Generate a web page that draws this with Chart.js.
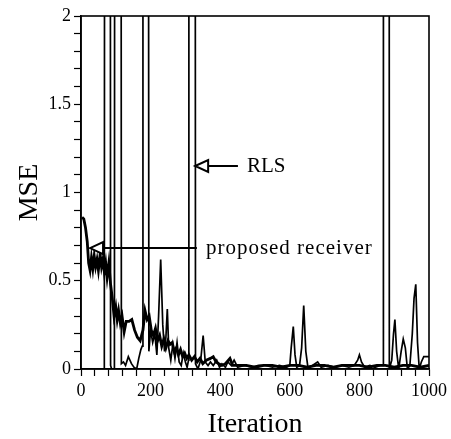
<!DOCTYPE html>
<html>
<head>
<meta charset="utf-8">
<script src="https://cdn.jsdelivr.net/npm/chart.js@4/dist/chart.umd.min.js"></script>
<style>
    html, body { margin: 0; padding: 0; background: #fff; }
    #wrap { width: 451px; height: 439px; }
</style>
</head>
<body>
<div id="wrap"><canvas id="mseChart"></canvas></div>
<script>
// ===========================
// DATA
// ===========================

// RLS - values above 2 run off the top of the plot
const rlsIter = [0, 30, 67, 69, 83, 85, 88, 96, 98, 114, 116, 122, 128, 136, 145, 152, 160, 166, 172, 176, 178, 192, 195, 200, 206, 212, 218, 223, 229, 235, 240, 244, 248, 252, 258, 264, 270, 276, 282, 288, 294, 300, 305, 309, 310, 327, 329, 336, 344, 351, 357, 365, 372, 380, 390, 398, 405, 415, 422, 432, 440, 450, 470, 490, 510, 530, 550, 570, 590, 600, 604, 610, 615, 620, 628, 634, 640, 646, 652, 665, 680, 690, 710, 730, 750, 770, 785, 795, 800, 806, 815, 830, 845, 860, 868, 869, 885, 886, 893, 898, 902, 907, 913, 920, 926, 932, 938, 945, 952, 957, 962, 967, 972, 978, 985, 995, 1000];
const rlsMse  = [0, 0, 0, 8, 8, 0.02, 0, 0, 8, 8, 0.03, 0.04, 0.02, 0.07, 0.03, 0.01, 0, 0.06, 0.11, 0.13, 8, 8, 0.1, 0.22, 0.15, 0.2, 0.08, 0.3, 0.62, 0.25, 0.1, 0.18, 0.34, 0.12, 0.05, 0.14, 0.06, 0.15, 0.04, 0.02, 0.09, 0.04, 0.01, 0.05, 8, 8, 0.03, 0, 0.05, 0.19, 0.04, 0.02, 0.04, 0.02, 0.05, 0.01, 0.03, 0.01, 0.04, 0.02, 0.05, 0.01, 0.02, 0.01, 0.02, 0.02, 0.01, 0.02, 0.01, 0.02, 0.12, 0.24, 0.08, 0.01, 0.02, 0.12, 0.36, 0.1, 0.01, 0.02, 0.04, 0.01, 0.02, 0.01, 0.02, 0.01, 0.02, 0.05, 0.08, 0.04, 0.01, 0.02, 0.01, 0.02, 0.02, 8, 8, 0, 0.05, 0.2, 0.28, 0.1, 0, 0.1, 0.17, 0.12, 0, 0.02, 0.2, 0.4, 0.48, 0.15, 0, 0.04, 0.07, 0.07, 0.07];

// proposed receiver
const propIter = [3, 8, 13, 18, 22, 26, 30, 34, 38, 42, 46, 50, 55, 59, 63, 67, 71, 75, 80, 85, 90, 95, 100, 104, 108, 113, 118, 124, 130, 138, 146, 154, 162, 170, 178, 184, 190, 196, 202, 208, 214, 220, 226, 232, 238, 244, 250, 256, 262, 268, 274, 280, 286, 292, 298, 304, 310, 318, 326, 334, 342, 350, 360, 372, 380, 388, 396, 405, 415, 428, 436, 450, 475, 500, 525, 550, 575, 600, 625, 650, 675, 700, 725, 750, 775, 800, 825, 850, 875, 900, 925, 950, 975, 1000];
const propMse  = [0.86, 0.85, 0.8, 0.72, 0.6, 0.56, 0.63, 0.57, 0.64, 0.58, 0.62, 0.56, 0.65, 0.58, 0.62, 0.55, 0.6, 0.52, 0.6, 0.48, 0.4, 0.3, 0.35, 0.28, 0.33, 0.26, 0.3, 0.21, 0.27, 0.27, 0.28, 0.22, 0.18, 0.16, 0.22, 0.33, 0.28, 0.3, 0.22, 0.19, 0.23, 0.16, 0.19, 0.13, 0.17, 0.12, 0.16, 0.14, 0.15, 0.1, 0.12, 0.08, 0.11, 0.07, 0.09, 0.06, 0.08, 0.05, 0.07, 0.04, 0.06, 0.03, 0.05, 0.06, 0.07, 0.04, 0.03, 0.02, 0.03, 0.06, 0.02, 0.02, 0.02, 0.01, 0.02, 0.02, 0.01, 0.02, 0.02, 0.01, 0.02, 0.02, 0.01, 0.02, 0.02, 0.02, 0.01, 0.02, 0.02, 0.01, 0.02, 0.02, 0.01, 0.02];

// axis ticks
const xMajorTicks = [0, 200, 400, 600, 800, 1000];
const yMajorTicks = [0, 0.5, 1, 1.5, 2];

// annotation arrows: [tipIter, tipMse, lineEndIter, label, letterSpacing]
const rlsNote  = [328, 1.15, 451, 'RLS', '0px'];
const propNote = [26, 0.685, 333, 'proposed receiver', '1px'];

const SERIF = '"Liberation Serif", "Times New Roman", serif';

function toPoints(xs, ys) {
    return xs.map((x, i) => ({ x: x, y: ys[i] }));
}

// Frame around the plot area (top and right sides too)
const framePlugin = {
    id: 'frame',
    afterDatasetsDraw(chart) {
        const { ctx, chartArea: a } = chart;
        ctx.save();
        ctx.strokeStyle = '#000';
        ctx.lineWidth = 1.6;
        ctx.strokeRect(a.left, a.top, a.right - a.left, a.bottom - a.top);
        ctx.restore();
    }
};

// Open-headed arrows with labels
const arrowPlugin = {
    id: 'arrows',
    afterDraw(chart) {
        const { ctx, scales } = chart;
        [rlsNote, propNote].forEach(note => {
            const tipX = scales.x.getPixelForValue(note[0]);
            const y = scales.y.getPixelForValue(note[1]);
            const endX = scales.x.getPixelForValue(note[2]);
            const headLen = 13, headHalf = 6;

            ctx.save();
            ctx.strokeStyle = '#000';
            ctx.lineWidth = 2;
            ctx.beginPath();
            ctx.moveTo(tipX + headLen, y);
            ctx.lineTo(endX, y);
            ctx.stroke();

            ctx.fillStyle = '#fff';
            ctx.beginPath();
            ctx.moveTo(tipX, y);
            ctx.lineTo(tipX + headLen, y - headHalf);
            ctx.lineTo(tipX + headLen, y + headHalf);
            ctx.closePath();
            ctx.fill();
            ctx.stroke();

            ctx.fillStyle = '#000';
            ctx.font = '21px ' + SERIF;
            ctx.letterSpacing = note[4];
            ctx.textBaseline = 'middle';
            ctx.fillText(note[3], endX + 9, y);
            ctx.restore();
        });
    }
};

function renderChart() {
    const ctx = document.getElementById('mseChart').getContext('2d');
    new Chart(ctx, {
        type: 'line',
        data: {
            datasets: [
                {
                    label: 'RLS',
                    data: toPoints(rlsIter, rlsMse),
                    borderColor: '#000',
                    borderWidth: 1.7,
                    pointRadius: 0,
                    tension: 0
                },
                {
                    label: 'proposed receiver',
                    data: toPoints(propIter, propMse),
                    borderColor: '#000',
                    borderWidth: 2.8,
                    pointRadius: 0,
                    tension: 0
                }
            ]
        },
        options: {
            responsive: true,
            maintainAspectRatio: false,
            animation: false,
            layout: { padding: { top: 16, right: 22, left: 0, bottom: 0 } },
            plugins: {
                legend: { display: false },
                tooltip: { enabled: false }
            },
            scales: {
                x: {
                    type: 'linear',
                    min: 0,
                    max: 1000,
                    afterFit: scale => { scale.height = 70; },
                    border: { color: '#000', width: 1.6 },
                    grid: { drawOnChartArea: false, tickLength: 7, tickColor: '#000', tickWidth: 1.2 },
                    ticks: {
                        stepSize: 40,
                        autoSkip: false,
                        maxRotation: 0,
                        padding: 4,
                        color: '#000',
                        font: { family: SERIF, size: 18 },
                        callback: v => xMajorTicks.includes(v) ? String(v) : ''
                    },
                    title: {
                        display: true,
                        text: 'Iteration',
                        color: '#000',
                        font: { family: SERIF, size: 28, lineHeight: 1 },
                        padding: 0
                    }
                },
                y: {
                    min: 0,
                    max: 2,
                    afterFit: scale => { scale.width = 81; },
                    border: { color: '#000', width: 1.6 },
                    grid: { drawOnChartArea: false, tickLength: 7, tickColor: '#000', tickWidth: 1.2 },
                    ticks: {
                        stepSize: 0.1,
                        autoSkip: false,
                        padding: 3,
                        color: '#000',
                        font: { family: SERIF, size: 18 },
                        callback: v => {
                            const r = Math.round(v * 10) / 10;
                            return yMajorTicks.includes(r) ? String(r) : '';
                        }
                    },
                    title: {
                        display: true,
                        text: 'MSE',
                        color: '#000',
                        font: { family: SERIF, size: 28, lineHeight: 1 },
                        padding: { top: 16, bottom: 0 }
                    }
                }
            }
        },
        plugins: [framePlugin, arrowPlugin]
    });
}

renderChart();
</script>
</body>
</html>
